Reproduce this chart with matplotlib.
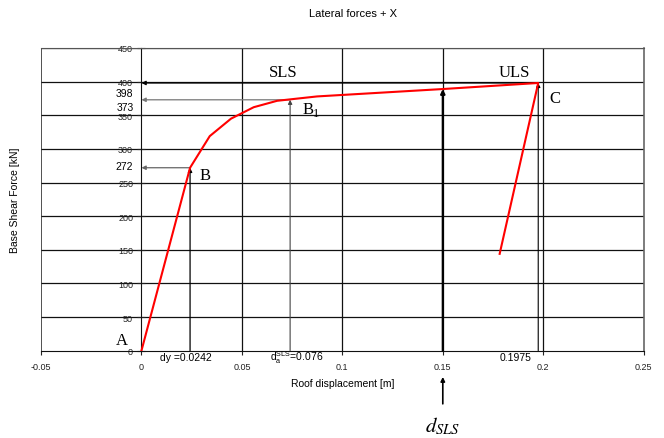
import matplotlib
matplotlib.use('Agg')
from matplotlib import pyplot as plt

plt.rcParams['font.family'] = ['Liberation Sans', 'DejaVu Sans']
plt.rcParams['mathtext.fontset'] = 'custom'
plt.rcParams['mathtext.rm'] = 'Liberation Sans'

# Pushover curve
disp = [0, 0.0242, 0.034, 0.0446, 0.0559, 0.0675, 0.0874, 0.15, 0.1975, 0.1783]
force = [0, 272, 319, 345, 362, 371.5, 378, 389, 398, 144]

# Marked points
d_y, f_y = 0.0242, 272
d_a, f_a = 0.074, 373
d_sls, f_sls = 0.15, 389
d_u, f_u = 0.1975, 398

xticks = [-0.05, 0, 0.05, 0.1, 0.15, 0.2, 0.25]
xtick_labels = ['-0.05', '0', '0.05', '0.1', '0.15', '0.2', '0.25']
yticks = [0, 50, 100, 150, 200, 250, 300, 350, 400, 450]

fig = plt.figure(figsize=(6.64, 4.39), dpi=100)
ax = fig.add_axes([41 / 664, 1 - 351.7 / 439, 602.7 / 664, 302.7 / 439])
ax.set_xlim(-0.05, 0.25)
ax.set_ylim(0, 450)

# Grid
for x in [0.05, 0.1, 0.15, 0.2]:
    ax.axvline(x, color='#111111', lw=0.9, zorder=1)
for y in yticks[1:]:
    ax.axhline(y, color='#111111', lw=0.9, zorder=1)
ax.axvline(-0.05, color='#333333', lw=1.2, zorder=1)

ax.spines['left'].set_position(('data', 0))
ax.spines['left'].set_color('#111111')
ax.spines['bottom'].set_color('#111111')
ax.spines['top'].set_color('#555555')
ax.spines['right'].set_color('#666666')
ax.spines['right'].set_linewidth(1.2)

ax.set_xticks(xticks)
ax.set_xticklabels(xtick_labels)
ax.set_yticks(yticks)
ax.tick_params(axis='x', direction='out', length=3, pad=5, labelsize=6.5, colors='#222222')
ax.tick_params(axis='y', direction='inout', length=6, pad=3, labelsize=6.5, colors='#222222')

# Curve
ax.plot(disp, force, color='red', lw=1.5, zorder=5)


def arrow(x0, y0, x1, y1, color='black', lw=0.9):
    ax.annotate('', xy=(x1, y1), xytext=(x0, y0),
                arrowprops=dict(arrowstyle='-|>', color=color, lw=lw,
                                mutation_scale=6, shrinkA=0, shrinkB=0),
                zorder=4, annotation_clip=False)


arrow(d_y, 0, d_y, f_y)
arrow(d_y, f_y, 0, f_y, color='#666666')
arrow(d_a, 0, d_a, f_a, color='#444444', lw=0.8)
arrow(d_a, f_a, 0, f_a, color='#777777')
arrow(d_sls, 0, d_sls, f_sls, lw=1.6)
arrow(d_u, 0, d_u, f_u, lw=0.8)
arrow(d_u, f_u, 0, f_u, lw=0.9)
arrow(d_sls, -79, d_sls, -39, lw=1.2)

# Labels
serif = 'Liberation Serif'
ax.text(0.0705, 415, 'SLS', family=serif, fontsize=12, ha='center', va='center')
ax.text(0.1857, 415, 'ULS', family=serif, fontsize=12, ha='center', va='center')
ax.text(0.206, 376, 'C', family=serif, fontsize=12, ha='center', va='center')
ax.text(0.0318, 261, 'B', family=serif, fontsize=12, ha='center', va='center')
ax.text(0.0802, 360, 'B', family=serif, fontsize=12, ha='left', va='center')
ax.text(0.0855, 353, '1', family=serif, fontsize=9, ha='left', va='center')
ax.text(-0.010, 16, 'A', family=serif, fontsize=12, ha='center', va='center')

ax.text(-0.004, 383, '398', fontsize=7.5, ha='right', va='center')
ax.text(-0.004, 363, '373', fontsize=7.5, ha='right', va='center')
ax.text(-0.004, 274, '272', fontsize=7.5, ha='right', va='center')

ax.text(0.0219, -9, 'dy =0.0242', fontsize=7.5, ha='center', va='center')
ax.text(0.0775, -9, r'd$_\mathrm{a}^\mathrm{SLS}$=0.076', fontsize=7.5, ha='center', va='center')
ax.text(0.186, -9, '0.1975', fontsize=7.5, ha='center', va='center')

ax.text(d_sls, -127, r'$d_{SLS}$', fontsize=15, ha='center', va='bottom',
        family=serif, math_fontfamily='stix')

ax.set_xlabel('Roof displacement [m]', fontsize=7.5)
ax.xaxis.set_label_coords(0.5, -0.09)
ax.set_ylabel('Base Shear Force [kN]', fontsize=7.5)
ax.yaxis.set_label_coords(-0.035, 0.5)

fig.text(353 / 664, 1 - 14 / 439, 'Lateral forces + X', fontsize=8, ha='center', va='center')

plt.savefig('out.png', dpi=100)
